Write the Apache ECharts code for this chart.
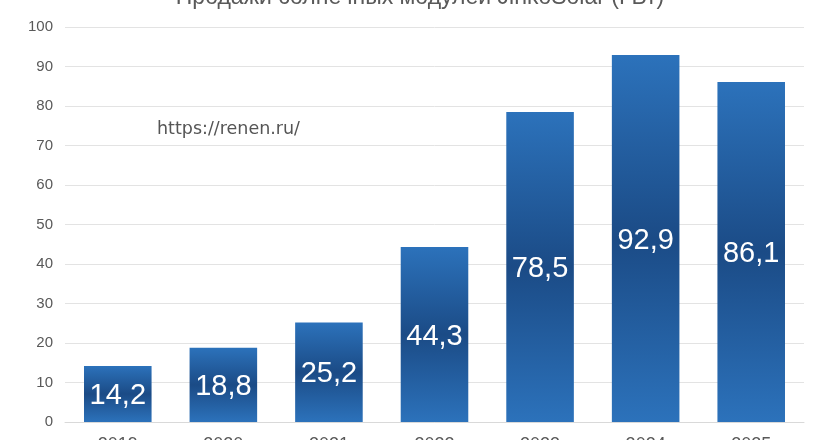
<!DOCTYPE html>
<html><head><meta charset="utf-8">
<script src="https://cdn.jsdelivr.net/npm/echarts@6/dist/echarts.min.js"></script>
<style>html,body{margin:0;padding:0;background:#fff;overflow:hidden}#c{width:840px;height:440px}</style>
</head><body><div id="c"></div>
<script>
const categories = ['2019','2020','2021','2022','2023','2024','2025'];
const sales = [14.2, 18.8, 25.2, 44.3, 78.5, 92.9, 86.1];
const chartTitle = 'Продажи солнечных модулей JinkoSolar (ГВт)';
const watermark = 'https://renen.ru/';

const chart = echarts.init(document.getElementById('c'), null, {width: 840, height: 440});
chart.setOption({
  backgroundColor: '#fff',
  animation: false,
  title: {
    text: chartTitle, left: 'center', top: -19,
    textStyle: {fontFamily: 'Liberation Sans, Arial', fontSize: 23, fontWeight: 'normal', color: '#595959'}
  },
  graphic: [{
    type: 'text', left: 157, top: 120,
    style: {text: watermark, fontFamily: 'DejaVu Sans', fontSize: 17.5, fill: '#555'}
  }],
  grid: {left: 65, right: 36, top: 27, bottom: 18, containLabel: false, outerBoundsMode: 'none'},
  xAxis: {
    type: 'category', data: categories,
    axisTick: {show: false},
    axisLine: {lineStyle: {color: '#d9d9d9'}},
    axisLabel: {color: '#595959', fontSize: 18, margin: 14, fontFamily: 'Liberation Sans, Arial'}
  },
  yAxis: {
    type: 'value', min: 0, max: 100, interval: 10,
    axisLine: {show: false}, axisTick: {show: false},
    splitLine: {lineStyle: {color: '#e3e3e3'}},
    axisLabel: {color: '#595959', fontSize: 15, margin: 12, fontFamily: 'Liberation Sans, Arial'}
  },
  series: [{
    type: 'bar', data: sales, barCategoryGap: '36%',
    itemStyle: {
      color: {type: 'linear', x: 0, y: 0, x2: 0, y2: 1,
        colorStops: [{offset: 0, color: '#2c72bb'}, {offset: 0.5, color: '#1b4b86'}, {offset: 1, color: '#2c72bb'}]}
    },
    label: {
      show: true, position: 'inside', color: '#fff', fontSize: 29, offset: [0, 2],
      fontFamily: 'Liberation Sans, Arial',
      formatter: p => String(p.value).replace('.', ',')
    }
  }]
});
</script></body></html>
